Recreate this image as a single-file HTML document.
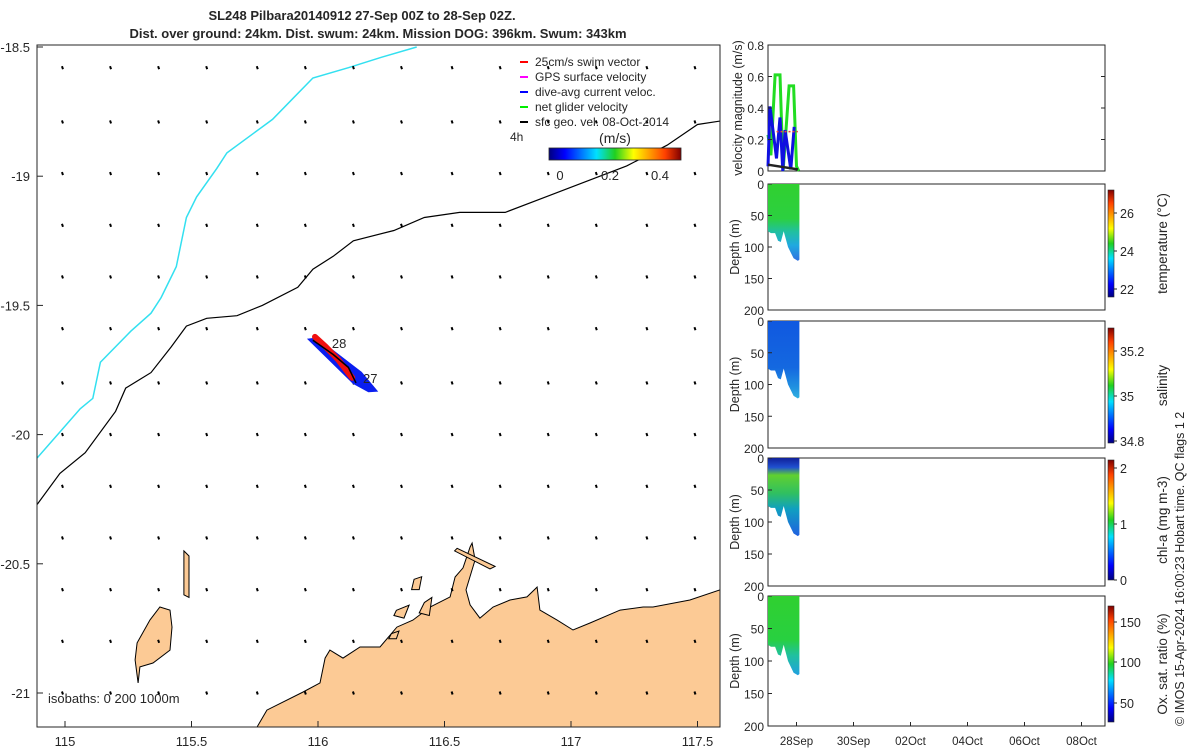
<!DOCTYPE html>
<html><head><meta charset="utf-8">
<style>
html,body{margin:0;padding:0;background:#fff;}
svg{display:block;font-family:"Liberation Sans","DejaVu Sans",sans-serif;}
text{fill:#262626;}
</style></head>
<body>
<svg id="fig" width="1200" height="750" viewBox="0 0 1200 750" xmlns="http://www.w3.org/2000/svg">
<defs>
<clipPath id="mapclip"><rect x="37" y="45" width="683" height="682"/></clipPath>
<linearGradient id="jet" x1="0" y1="0" x2="1" y2="0">
<stop offset="0" stop-color="#00007f"/><stop offset="0.12" stop-color="#0000ff"/><stop offset="0.36" stop-color="#00e0ff"/><stop offset="0.5" stop-color="#20d020"/><stop offset="0.64" stop-color="#ffff00"/><stop offset="0.88" stop-color="#ff4000"/><stop offset="1" stop-color="#7f0000"/>
</linearGradient>
<linearGradient id="jetv" x1="0" y1="1" x2="0" y2="0">
<stop offset="0" stop-color="#00007f"/><stop offset="0.12" stop-color="#0000ff"/><stop offset="0.36" stop-color="#00e0ff"/><stop offset="0.5" stop-color="#20d020"/><stop offset="0.64" stop-color="#ffff00"/><stop offset="0.88" stop-color="#ff4000"/><stop offset="1" stop-color="#7f0000"/>
</linearGradient>
</defs>
<g>
<text x="362" y="20" font-size="13" font-weight="bold" text-anchor="middle" fill="#000">SL248 Pilbara20140912 27-Sep 00Z to 28-Sep 02Z.</text>
<text x="378" y="38" font-size="13" font-weight="bold" text-anchor="middle" fill="#000">Dist. over ground: 24km. Dist. swum: 24km. Mission DOG: 396km. Swum: 343km</text>
</g>
<g id="map"></g>
<g id="right"></g>
<text transform="translate(1184,726) rotate(-90)" font-size="12.5">© IMOS 15-Apr-2024 16:00:23 Hobart time. QC flags 1  2</text>
</svg>
<script>
// ---------- MAP DATA ----------
const lonTicks=[115,115.5,116,116.5,117,117.5];
const latTicks=[-18.5,-19,-19.5,-20,-20.5,-21];
const gridLons=[114.99,115.18,115.37,115.56,115.76,115.95,116.14,116.33,116.53,116.72,116.91,117.1,117.3,117.49];
const gridLats=[-18.58,-18.79,-18.99,-19.19,-19.39,-19.59,-19.8,-20.0,-20.2,-20.4,-20.6,-20.8,-21.0];
const cyanIso=[[114.89,-20.09],[114.98,-19.99],[115.06,-19.9],[115.11,-19.86],[115.14,-19.72],[115.26,-19.6],[115.34,-19.53],[115.38,-19.47],[115.44,-19.35],[115.48,-19.16],[115.52,-19.08],[115.6,-18.97],[115.64,-18.91],[115.82,-18.78],[115.9,-18.7],[115.98,-18.62],[116.12,-18.58],[116.25,-18.54],[116.39,-18.5]];
const blackIso=[[114.89,-20.27],[114.98,-20.15],[115.08,-20.07],[115.2,-19.91],[115.24,-19.82],[115.34,-19.76],[115.42,-19.66],[115.48,-19.58],[115.56,-19.55],[115.68,-19.54],[115.78,-19.5],[115.92,-19.43],[115.98,-19.36],[116.06,-19.31],[116.14,-19.25],[116.3,-19.21],[116.42,-19.16],[116.56,-19.14],[116.74,-19.14],[116.9,-19.08],[117.06,-19.02],[117.22,-18.96],[117.38,-18.88],[117.5,-18.8],[117.7,-18.77]];
const coast=[[115.759,-21.2],[115.759,-21.132],[115.798,-21.066],[115.941,-20.996],[116.008,-20.961],[116.028,-20.865],[116.047,-20.834],[116.099,-20.865],[116.166,-20.822],[116.245,-20.822],[116.312,-20.745],[116.375,-20.718],[116.443,-20.667],[116.522,-20.628],[116.542,-20.551],[116.573,-20.516],[116.601,-20.435],[116.609,-20.42],[116.621,-20.485],[116.585,-20.601],[116.601,-20.659],[116.64,-20.71],[116.692,-20.667],[116.759,-20.64],[116.826,-20.628],[116.866,-20.59],[116.877,-20.679],[116.945,-20.718],[117.008,-20.756],[117.075,-20.729],[117.194,-20.679],[117.285,-20.667],[117.324,-20.667],[117.47,-20.64],[117.589,-20.601],[117.7,-20.59],[117.7,-21.2]];
const bigIsland=[[115.375,-20.667],[115.415,-20.679],[115.423,-20.745],[115.415,-20.834],[115.348,-20.884],[115.296,-20.899],[115.289,-20.961],[115.277,-20.872],[115.285,-20.806],[115.336,-20.717]];
const smallIslands=[[[116.38,-20.56],[116.41,-20.55],[116.4,-20.6],[116.37,-20.6]],[[116.31,-20.68],[116.36,-20.66],[116.34,-20.71],[116.3,-20.7]],[[116.42,-20.65],[116.45,-20.63],[116.44,-20.7],[116.4,-20.69]],[[116.55,-20.44],[116.7,-20.51],[116.68,-20.52],[116.54,-20.45]],[[116.29,-20.77],[116.32,-20.76],[116.31,-20.79],[116.28,-20.79]],[[115.47,-20.45],[115.49,-20.47],[115.49,-20.63],[115.47,-20.62]]];
const trackBlue=[[115.965,-19.632],[115.995,-19.628],[116.17,-19.76],[116.23,-19.83],[116.2,-19.832],[116.14,-19.8]];
const trackRed=[[115.988,-19.622],[116.03,-19.66],[116.08,-19.71],[116.126,-19.769],[116.135,-19.78]];
const trackLine=[[115.98,-19.635],[116.06,-19.69],[116.12,-19.74],[116.15,-19.8]];
// ---------- TIME SERIES DATA ----------
const dayTicks=["28Sep","30Sep","02Oct","04Oct","06Oct","08Oct"];
const dayTickVals=[1,3,5,7,9,11];
const velTicks=[0,0.2,0.4,0.6,0.8];
const greenT=[0,0.1,0.25,0.42,0.53,0.74,0.9,1.0,1.08];
const greenV=[0.23,0.10,0.61,0.61,0,0.54,0.54,0.03,0];
const blueT=[0,0.07,0.3,0.42,0.52,0.6,0.8,0.92];
const blueV=[0.03,0.41,0.08,0.34,0,0.26,0.01,0.28];
const blackT=[0,1.05];
const blackV=[0.04,0.01];
const redT=[0.3,1.05];
const redV=[0.25,0.25];
const profT=[0,0.1,0.25,0.35,0.45,0.55,0.7,0.9,1.05,1.1];
const profBottom=[75,78,78,90,92,75,100,118,122,120];
const depthTicks=[0,50,100,150,200];

const NS='http://www.w3.org/2000/svg';
function mk(tag,attrs,parent){const e=document.createElementNS(NS,tag);for(const k in attrs)e.setAttribute(k,attrs[k]);parent.appendChild(e);return e;}
const map0=document.getElementById('map'),right=document.getElementById('right');
const mx=lon=>65+(lon-115)*253;
const my=lat=>47+(-18.5-lat)*258.4;
const L=37,R=720,T=45,B=727;
mk('rect',{x:L,y:T,width:R-L,height:B-T,fill:'#fff'},map0);
const map=mk('g',{'clip-path':'url(#mapclip)'},map0);
function poly(pts){return pts.map(p=>mx(p[0]).toFixed(1)+','+my(p[1]).toFixed(1)).join(' ');}
let e;
e=mk('polygon',{points:poly(coast),fill:'#fcca95',stroke:'#000','stroke-width':1},map);

e=mk('polygon',{points:poly(bigIsland),fill:'#fcca95',stroke:'#000','stroke-width':1},map);

smallIslands.forEach(s=>{const q=mk('polygon',{points:poly(s),fill:'#fcca95',stroke:'#000','stroke-width':1},map);

});
e=mk('polyline',{points:poly(cyanIso),fill:'none',stroke:'#33e0f0','stroke-width':1.5},map);

e=mk('polyline',{points:poly(blackIso),fill:'none',stroke:'#000','stroke-width':1.2},map);

gridLats.forEach(la=>gridLons.forEach(lo=>{const x=mx(lo),y=my(la);const a=mk('line',{x1:x+0.5,y1:y+1.5,x2:x-0.5,y2:y-1.5,stroke:'#000','stroke-width':2},map);

}));
e=mk('polygon',{points:poly(trackBlue),fill:'#0a1ef0',stroke:'#0a1ef0','stroke-width':2},map);

e=mk('polyline',{points:poly(trackRed),fill:'none',stroke:'#f01010','stroke-width':6,'stroke-linecap':'round'},map);

e=mk('polyline',{points:poly(trackLine),fill:'none',stroke:'#000','stroke-width':1.5},map);

e=mk('text',{x:mx(116.055),y:my(-19.665),'font-size':13,fill:'#000'},map);e.textContent='28';

e=mk('text',{x:mx(116.178),y:my(-19.8),'font-size':13,fill:'#000'},map);e.textContent='27';

mk('rect',{x:L,y:T,width:R-L,height:B-T,fill:'none',stroke:'#262626','stroke-width':1},map0);
lonTicks.forEach(v=>{const x=mx(v);mk('line',{x1:x,y1:B,x2:x,y2:B-6,stroke:'#262626'},map0);
const t=mk('text',{x:x,y:746,'font-size':13,'text-anchor':'middle'},map0);t.textContent=String(v);

});
latTicks.forEach(v=>{const y=my(v);mk('line',{x1:L,y1:y,x2:L+6,y2:y,stroke:'#262626'},map0);
const t=mk('text',{x:30,y:y+5,'font-size':13,'text-anchor':'end'},map0);t.textContent=String(v);

});
e=mk('text',{x:48,y:703,'font-size':13,fill:'#000'},map0);e.textContent='isobaths: 0   200   1000m';

const leg=[['#f00','25cm/s swim vector'],['#f0f','GPS surface velocity'],['#00f','dive-avg current veloc.'],['#0e0','net glider velocity'],['#000','sfc geo. vel. 08-Oct-2014']];
leg.forEach((l,i)=>{const y=62+i*15;mk('line',{x1:520,y1:y,x2:528,y2:y,stroke:l[0],'stroke-width':2},map0);
const t=mk('text',{x:535,y:y+4,'font-size':12,fill:'#000'},map0);t.textContent=l[1];

});
e=mk('text',{x:510,y:141,'font-size':12,fill:'#000'},map0);e.textContent='4h';
e=mk('text',{x:615,y:143,'font-size':14,'text-anchor':'middle',fill:'#000'},map0);e.textContent='(m/s)';
e=mk('rect',{x:549,y:148,width:132,height:12,fill:'url(#jet)',stroke:'#262626','stroke-width':0.8},map0);

[['0',560],['0.2',610],['0.4',660]].forEach(a=>{const t=mk('text',{x:a[1],y:180,'font-size':13,'text-anchor':'middle'},map0);t.textContent=a[0];});

// ---------- RIGHT PANELS ----------
const PL=768,PR=1105;
const tx=t=>PL+28.5*t;
const vT=45,vB=171;
const vy=v=>vB-(v/0.8)*(vB-vT);
mk('rect',{x:PL,y:vT,width:PR-PL,height:vB-vT,fill:'#fff',stroke:'#262626'},right);
function line(ts,vs,col,w,dash,name){const p=mk('polyline',{points:ts.map((t,i)=>tx(t).toFixed(1)+','+vy(vs[i]).toFixed(1)).join(' '),fill:'none',stroke:col,'stroke-width':w},right);if(dash)p.setAttribute('stroke-dasharray',dash);

}
line(greenT,greenV,'#22dd22',3,null,'net-glider-velocity-line');
line(blueT,blueV,'#1010e0',3,null,'dive-avg-current-line');
line(blackT,blackV,'#222',2.5,null,'sfc-geo-velocity-line');
line(redT,redV,'#f04040',1.5,'2,2','swim-speed-line');
velTicks.forEach(v=>{const y=vy(v);mk('line',{x1:PL,y1:y,x2:PL+4,y2:y,stroke:'#262626'},right);mk('line',{x1:PR,y1:y,x2:PR-4,y2:y,stroke:'#262626'},right);
const t=mk('text',{x:764,y:y+5,'font-size':12,'text-anchor':'end'},right);t.textContent=String(v);});
e=mk('text',{transform:'translate(742,108) rotate(-90)','font-size':12.5,'text-anchor':'middle'},right);e.textContent='velocity magnitude (m/s)';

const panels=[
 {top:184,bot:310,label:'temperature (°C)',cb:[190,297],ticks:[['26',213],['24',251],['22',289]],stops:[[0,'#30d030'],[0.45,'#2cd040'],[0.62,'#20c0a0'],[0.8,'#20a8e0'],[1,'#3070e0']]},
 {top:321,bot:448,label:'salinity',cb:[328,443],ticks:[['35.2',351],['35',396],['34.8',441]],stops:[[0,'#1058e0'],[0.6,'#1468e0'],[0.85,'#2090e0'],[1,'#30b0e0']]},
 {top:458,bot:586,label:'chl-a (mg m-3)',cb:[460,580],ticks:[['2',468],['1',524],['0',580]],stops:[[0,'#10209a'],[0.12,'#2050d0'],[0.22,'#60d030'],[0.45,'#30c060'],[0.65,'#10a0c0'],[1,'#2060e0']]},
 {top:596,bot:726,label:'Ox. sat. ratio (%)',cb:[606,722],ticks:[['150',622],['100',662],['50',703]],stops:[[0,'#30d030'],[0.55,'#28d040'],[0.75,'#20c0a0'],[1,'#20a0e0']]}
];
panels.forEach((p,pi)=>{
 const dy=d=>p.top+d/200*(p.bot-p.top);
 mk('rect',{x:PL,y:p.top,width:PR-PL,height:p.bot-p.top,fill:'#fff',stroke:'#262626'},right);
 const gid='g'+pi;const g=mk('linearGradient',{id:gid,x1:0,y1:dy(0),x2:0,y2:dy(122),gradientUnits:'userSpaceOnUse'},document.querySelector('defs'));
 p.stops.forEach(s=>mk('stop',{offset:s[0],'stop-color':s[1]},g));
 const pts=[[tx(profT[0]),dy(0)]];
 profT.forEach((t,i)=>pts.push([tx(t),dy(profBottom[i])]));
 pts.push([tx(profT[profT.length-1]),dy(0)]);
 const f=mk('polygon',{points:pts.map(q=>q[0].toFixed(1)+','+q[1].toFixed(1)).join(' '),fill:'url(#'+gid+')'},right);
 
 
 depthTicks.forEach(d=>{const y=dy(d);mk('line',{x1:PL,y1:y,x2:PL+4,y2:y,stroke:'#262626'},right);
  const t=mk('text',{x:764,y:y+5,'font-size':12,'text-anchor':'end'},right);t.textContent=String(d);});
 const yt=mk('text',{transform:'translate(739,'+((p.top+p.bot)/2)+') rotate(-90)','font-size':12.5,'text-anchor':'middle'},right);yt.textContent='Depth (m)';
 
 
 const cb=mk('rect',{x:1108,y:p.cb[0],width:6,height:p.cb[1]-p.cb[0],fill:'url(#jetv)',stroke:'#262626','stroke-width':0.6},right);
 
 
 p.ticks.forEach(k=>{mk('line',{x1:1114,y1:k[1],x2:1117,y2:k[1],stroke:'#262626'},right);const t=mk('text',{x:1120,y:k[1]+5,'font-size':12.5},right);t.textContent=k[0];});
 const lt=mk('text',{transform:'translate(1167,'+((p.cb[0]+p.cb[1])/2)+') rotate(-90)','font-size':13.5,'text-anchor':'middle'},right);lt.textContent=p.label;
 
 
});
dayTickVals.forEach((d,i)=>{const x=tx(d);mk('line',{x1:x,y1:726,x2:x,y2:722,stroke:'#262626'},right);
const t=mk('text',{x:x,y:745,'font-size':11.5,'text-anchor':'middle'},right);t.textContent=dayTicks[i];

});
</script>
</body></html>
